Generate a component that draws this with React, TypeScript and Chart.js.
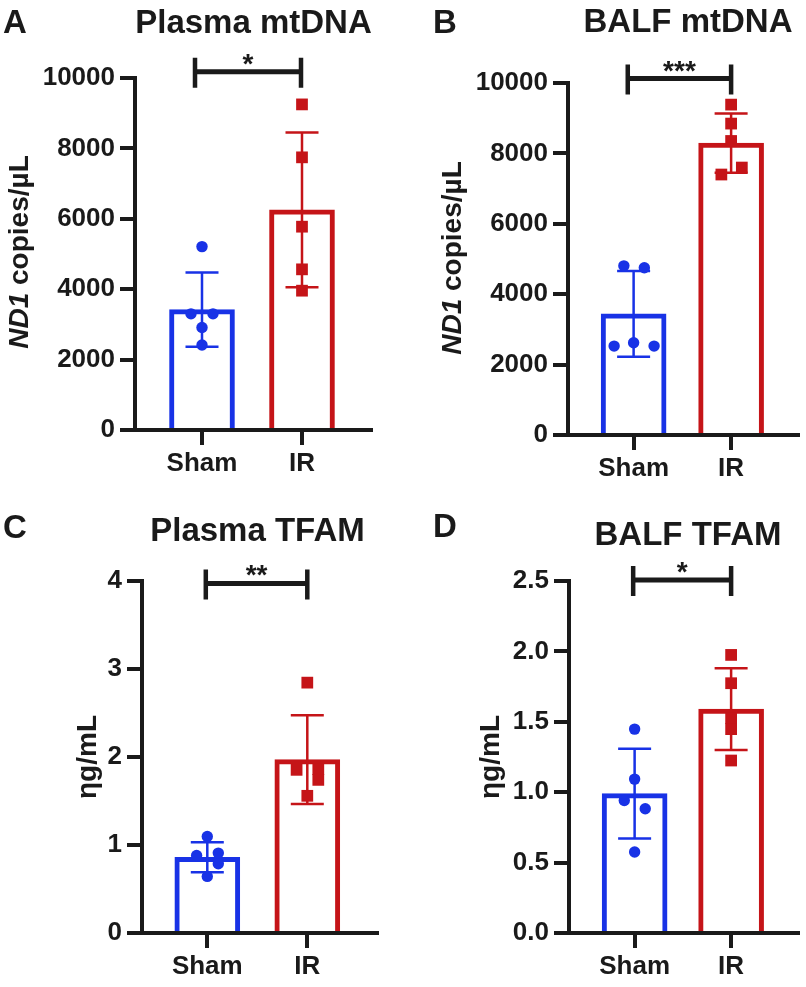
import React, { useEffect, useRef } from 'react';
import { Chart, registerables } from 'chart.js';

Chart.register(...registerables);

// ---------------- data ----------------
const categories = ['Sham', 'IR'];

// A – Plasma mtDNA (ND1 copies/µL)
const plasmaMtdnaSham = [5210, 3300, 3300, 2910, 2415];
const plasmaMtdnaIR = [9250, 7746, 5776, 4564, 3958];
const plasmaMtdnaShamJitter = [0, -0.11, 0.11, 0, 0];
const plasmaMtdnaIRJitter = [0, 0, 0, 0, 0];
const plasmaMtdnaMean = [3420, 6255];
const plasmaMtdnaSD = [1055, 2200];
const plasmaMtdnaTicks = [0, 2000, 4000, 6000, 8000, 10000];
const plasmaMtdnaTickLabels = ['0', '2000', '4000', '6000', '8000', '10000'];

// B – BALF mtDNA (ND1 copies/µL)
const balfMtdnaSham = [4806, 4750, 2526, 2620, 2526];
const balfMtdnaIR = [9386, 8847, 8353, 7598, 7400];
const balfMtdnaShamJitter = [-0.1, 0.11, -0.2, 0, 0.21];
const balfMtdnaIRJitter = [0, 0, 0, 0.11, -0.1];
const balfMtdnaMean = [3440, 8290];
const balfMtdnaSD = [1220, 840];
const balfMtdnaTicks = [0, 2000, 4000, 6000, 8000, 10000];
const balfMtdnaTickLabels = ['0', '2000', '4000', '6000', '8000', '10000'];

// C – Plasma TFAM (ng/mL)
const plasmaTfamSham = [1.097, 0.881, 0.908, 0.787, 0.643];
const plasmaTfamIR = [2.845, 1.854, 1.862, 1.74, 1.559];
const plasmaTfamShamJitter = [0, -0.107, 0.11, 0.11, 0];
const plasmaTfamIRJitter = [0, -0.107, 0.11, 0.11, 0];
const plasmaTfamMean = [0.86, 1.97];
const plasmaTfamSD = [0.17, 0.505];
const plasmaTfamTicks = [0, 1, 2, 3, 4];
const plasmaTfamTickLabels = ['0', '1', '2', '3', '4'];

// D – BALF TFAM (ng/mL)
const balfTfamSham = [1.448, 1.093, 0.941, 0.882, 0.575];
const balfTfamIR = [1.975, 1.774, 1.526, 1.448, 1.225];
const balfTfamShamJitter = [0, 0, -0.107, 0.11, 0];
const balfTfamIRJitter = [0, 0, 0, 0, 0];
const balfTfamMean = [0.99, 1.59];
const balfTfamSD = [0.318, 0.29];
const balfTfamTicks = [0, 0.5, 1, 1.5, 2, 2.5];
const balfTfamTickLabels = ['0.0', '0.5', '1.0', '1.5', '2.0', '2.5'];

const significance = ['*', '***', '**', '*'];
const bracketLevels = [10180, 10125, 3.973, 2.507];

// ---------------- style ----------------
const BLUE = '#1832e6';
const RED = '#c51418';
const INK = '#1a1a1a';
const FONT = "'Liberation Sans', Arial, Helvetica, sans-serif";

type Part = [string, boolean];

interface PanelCfg {
  key: string;
  left: number; top: number; w: number; h: number;
  area: { l: number; r: number; t: number; b: number };
  xRange: [number, number];
  sham: number[]; ir: number[]; shamJ: number[]; irJ: number[];
  means: number[]; sds: number[];
  ticks: number[]; tickLabels: string[];
  title: string; titlePos: [number, number];
  letterPos: [number, number];
  yTitle: Part[]; yTitlePos: [number, number];
  bracketX: [number, number]; bracketLevel: number; stars: string;
}

const ND1: Part[] = [['ND1', true], [' copies/µL', false]];
const NGML: Part[] = [['ηg/mL', false]];

const panels: PanelCfg[] = [
  {
    key: 'A', left: 0, top: 0, w: 403, h: 487,
    area: { l: 135, r: 371, t: 78, b: 430 }, xRange: [0.33, 2.69],
    sham: plasmaMtdnaSham, ir: plasmaMtdnaIR, shamJ: plasmaMtdnaShamJitter, irJ: plasmaMtdnaIRJitter,
    means: plasmaMtdnaMean, sds: plasmaMtdnaSD, ticks: plasmaMtdnaTicks, tickLabels: plasmaMtdnaTickLabels,
    title: 'Plasma mtDNA', titlePos: [253.5, 33], letterPos: [3, 33],
    yTitle: ND1, yTitlePos: [28, 252],
    bracketX: [0.93, 1.99], bracketLevel: bracketLevels[0], stars: significance[0],
  },
  {
    key: 'B', left: 403, top: 0, w: 403, h: 487,
    area: { l: 165, r: 403, t: 83, b: 435 }, xRange: [0.327, 2.683],
    sham: balfMtdnaSham, ir: balfMtdnaIR, shamJ: balfMtdnaShamJitter, irJ: balfMtdnaIRJitter,
    means: balfMtdnaMean, sds: balfMtdnaSD, ticks: balfMtdnaTicks, tickLabels: balfMtdnaTickLabels,
    title: 'BALF mtDNA', titlePos: [285, 32], letterPos: [30, 33],
    yTitle: ND1, yTitlePos: [58, 258],
    bracketX: [0.94, 2.0], bracketLevel: bracketLevels[1], stars: significance[1],
  },
  {
    key: 'C', left: 0, top: 487, w: 403, h: 500,
    area: { l: 142, r: 377, t: 94, b: 446 }, xRange: [0.347, 2.697],
    sham: plasmaTfamSham, ir: plasmaTfamIR, shamJ: plasmaTfamShamJitter, irJ: plasmaTfamIRJitter,
    means: plasmaTfamMean, sds: plasmaTfamSD, ticks: plasmaTfamTicks, tickLabels: plasmaTfamTickLabels,
    title: 'Plasma TFAM', titlePos: [257.5, 54], letterPos: [3, 51],
    yTitle: NGML, yTitlePos: [96, 270],
    bracketX: [0.985, 2.0], bracketLevel: bracketLevels[2], stars: significance[2],
  },
  {
    key: 'D', left: 403, top: 487, w: 403, h: 500,
    area: { l: 166, r: 403, t: 94, b: 446 }, xRange: [0.32, 2.69],
    sham: balfTfamSham, ir: balfTfamIR, shamJ: balfTfamShamJitter, irJ: balfTfamIRJitter,
    means: balfTfamMean, sds: balfTfamSD, ticks: balfTfamTicks, tickLabels: balfTfamTickLabels,
    title: 'BALF TFAM', titlePos: [285, 58], letterPos: [30, 50],
    yTitle: NGML, yTitlePos: [96, 270],
    bracketX: [0.985, 2.0], bracketLevel: bracketLevels[3], stars: significance[3],
  },
];

const groupColors = [BLUE, RED];

function makeDecor(p: PanelCfg) {
  return {
    id: 'decor' + p.key,
    afterDatasetDraw(chart: any, args: any) {
      if (!args.meta || args.meta.type !== 'bar') return;
      const xs = chart.scales.x;
      const ys = chart.scales.y;
      const ctx = chart.ctx as CanvasRenderingContext2D;
      p.means.forEach((m, i) => {
        const px = xs.getPixelForValue(i + 1);
        const top = ys.getPixelForValue(m + p.sds[i]);
        const bot = ys.getPixelForValue(m - p.sds[i]);
        ctx.save();
        ctx.strokeStyle = groupColors[i];
        ctx.lineWidth = 2.5;
        ctx.beginPath();
        ctx.moveTo(px, top);
        ctx.lineTo(px, bot);
        ctx.moveTo(px - 16.5, top);
        ctx.lineTo(px + 16.5, top);
        ctx.moveTo(px - 16.5, bot);
        ctx.lineTo(px + 16.5, bot);
        ctx.stroke();
        ctx.restore();
      });
    },
    afterDraw(chart: any) {
      const ctx = chart.ctx as CanvasRenderingContext2D;
      const xs = chart.scales.x;
      const ys = chart.scales.y;
      ctx.save();
      ctx.fillStyle = INK;
      ctx.textBaseline = 'alphabetic';
      ctx.font = `bold 33px ${FONT}`;
      ctx.textAlign = 'left';
      ctx.fillText(p.key, p.letterPos[0], p.letterPos[1]);
      ctx.textAlign = 'center';
      ctx.fillText(p.title, p.titlePos[0], p.titlePos[1]);

      // rotated y-axis title with mixed styles
      ctx.save();
      ctx.translate(p.yTitlePos[0], p.yTitlePos[1]);
      ctx.rotate(-Math.PI / 2);
      ctx.textAlign = 'left';
      const fontFor = (it: boolean) => `${it ? 'italic ' : ''}bold 28px ${FONT}`;
      let total = 0;
      const widths = p.yTitle.map(([t, it]) => {
        ctx.font = fontFor(it);
        const w = ctx.measureText(t).width;
        total += w;
        return w;
      });
      let cx = -total / 2;
      p.yTitle.forEach(([t, it], i) => {
        ctx.font = fontFor(it);
        ctx.fillText(t, cx, 0);
        cx += widths[i];
      });
      ctx.restore();

      // significance bracket
      const x1 = xs.getPixelForValue(p.bracketX[0]);
      const x2 = xs.getPixelForValue(p.bracketX[1]);
      const by = ys.getPixelForValue(p.bracketLevel);
      ctx.strokeStyle = INK;
      ctx.lineCap = 'butt';
      ctx.lineWidth = 5;
      ctx.beginPath();
      ctx.moveTo(x1, by);
      ctx.lineTo(x2, by);
      ctx.stroke();
      ctx.lineWidth = 4.5;
      ctx.beginPath();
      ctx.moveTo(x1, by - 14);
      ctx.lineTo(x1, by + 16);
      ctx.moveTo(x2, by - 14);
      ctx.lineTo(x2, by + 16);
      ctx.stroke();
      ctx.font = `bold 28px ${FONT}`;
      ctx.textAlign = 'center';
      ctx.fillText(p.stars, (x1 + x2) / 2, by + 1);
      ctx.restore();
    },
  };
}

function Panel({ p }: { p: PanelCfg }) {
  const ref = useRef<HTMLCanvasElement>(null);
  useEffect(() => {
    if (!ref.current) return;
    const tickFont = { family: FONT, weight: 'bold' as const, size: 26 };
    const grid = {
      drawOnChartArea: false,
      drawTicks: true,
      tickLength: 15,
      lineWidth: 4,
      tickWidth: 4,
      color: INK,
      tickColor: INK,
      offset: false,
    };
    const chart = new Chart(ref.current, {
      type: 'bar',
      data: {
        datasets: [
          {
            type: 'scatter',
            data: p.sham.map((v, i) => ({ x: 1 + p.shamJ[i], y: v })),
            pointStyle: 'circle',
            pointRadius: 5.7,
            pointBackgroundColor: BLUE,
            pointBorderWidth: 0,
            backgroundColor: BLUE,
            borderWidth: 0,
            clip: false,
            order: 1,
          } as any,
          {
            type: 'scatter',
            data: p.ir.map((v, i) => ({ x: 2 + p.irJ[i], y: v })),
            pointStyle: 'rect',
            pointRadius: 8.3,
            pointBackgroundColor: RED,
            pointBorderWidth: 0,
            backgroundColor: RED,
            borderWidth: 0,
            clip: false,
            order: 1,
          } as any,
          {
            type: 'bar',
            data: p.means.map((m, i) => ({ x: i + 1, y: m })),
            backgroundColor: '#ffffff',
            borderColor: groupColors,
            borderWidth: 5,
            borderSkipped: 'start',
            barThickness: 65,
            order: 2,
          } as any,
        ],
      },
      options: {
        animation: false,
        responsive: false,
        devicePixelRatio: 1,
        events: [],
        layout: { padding: { top: p.area.t, right: p.w - p.area.r, left: 0, bottom: 0 } },
        plugins: { legend: { display: false }, tooltip: { enabled: false }, title: { display: false } },
        scales: {
          x: {
            type: 'linear',
            min: p.xRange[0],
            max: p.xRange[1],
            offset: false,
            afterFit: (s: any) => { s.height = p.h - p.area.b; },
            afterBuildTicks: (s: any) => { s.ticks = categories.map((_, i) => ({ value: i + 1 })); },
            ticks: {
              callback: (v: any) => categories[Math.round(Number(v)) - 1] ?? '',
              font: tickFont,
              color: INK,
              padding: 3,
              maxRotation: 0,
              autoSkip: false,
            },
            grid: { ...grid, z: 1 },
            border: { display: true, width: 4, color: INK, z: 1 },
          },
          y: {
            type: 'linear',
            min: p.ticks[0],
            max: p.ticks[p.ticks.length - 1],
            afterFit: (s: any) => { s.width = p.area.l; },
            afterBuildTicks: (s: any) => { s.ticks = p.ticks.map((v) => ({ value: v })); },
            ticks: {
              callback: (_v: any, i: number) => p.tickLabels[i],
              font: tickFont,
              color: INK,
              padding: 5,
              autoSkip: false,
            },
            grid: { ...grid },
            border: { display: true, width: 4, color: INK },
          },
        },
      } as any,
      plugins: [makeDecor(p)],
    });
    return () => chart.destroy();
  }, [p]);
  return (
    <canvas
      ref={ref}
      width={p.w}
      height={p.h}
      style={{ position: 'absolute', left: p.left, top: p.top, width: p.w, height: p.h }}
    />
  );
}

export default function App() {
  return (
    <div style={{ position: 'absolute', left: 0, top: 0, width: 806, height: 987, background: '#ffffff', overflow: 'hidden' }}>
      {panels.map((p) => (
        <Panel key={p.key} p={p} />
      ))}
    </div>
  );
}
